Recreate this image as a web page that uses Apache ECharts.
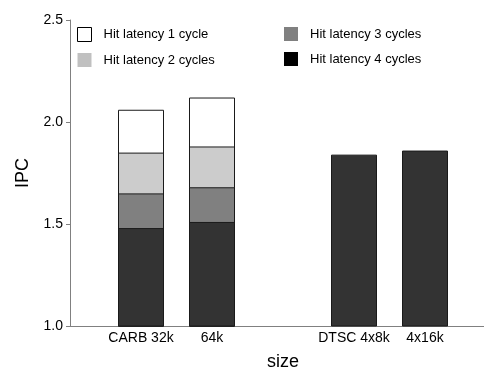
<!DOCTYPE html>
<html>
<head>
<meta charset="utf-8">
<script src="https://cdn.jsdelivr.net/npm/echarts@6/dist/echarts.min.js"></script>
<style>html,body{margin:0;padding:0;background:#fff}#c{width:484px;height:373px}</style>
</head>
<body>
<div id="c"></div>
<script>
// Categories (blank slots are spacing in the original chart)
const categories = ['', 'CARB 32k', '64k', '', 'DTSC 4x8k', '4x16k', ''];
// Cumulative IPC level reached by each hit-latency band
const lat1 = [null, 2.06, 2.12, null, null, null, null];
const lat2 = [null, 1.85, 1.88, null, null, null, null];
const lat3 = [null, 1.65, 1.68, null, null, null, null];
const lat4 = [null, 1.48, 1.51, null, 1.84, 1.86, null];
const seriesNames = ['Hit latency 1 cycle', 'Hit latency 2 cycles', 'Hit latency 3 cycles', 'Hit latency 4 cycles'];
const yTicks = [1.0, 1.5, 2.0, 2.5];

const chart = echarts.init(document.getElementById('c'), null, {renderer: 'canvas'});
const font = 'Liberation Sans, Arial, sans-serif';
const barColors = ['#ffffff', '#cccccc', '#808080', '#333333'];
const legendColors = ['#ffffff', '#c0c0c0', '#808080', '#000000'];
const seriesData = [lat1, lat2, lat3, lat4];

function mkSeries(i) {
  return {
    name: seriesNames[i],
    type: 'bar',
    data: seriesData[i],
    barWidth: 46,
    barGap: '-100%',
    itemStyle: {color: barColors[i], borderColor: '#1a1a1a', borderWidth: 1},
    emphasis: {disabled: true},
    animation: false
  };
}
function legendItem(i) {
  return {
    name: seriesNames[i],
    itemStyle: {color: legendColors[i], borderColor: i === 0 ? '#000' : legendColors[i], borderWidth: i === 0 ? 1 : 0}
  };
}
const legendCommon = {
  orient: 'vertical',
  top: 22,
  itemWidth: 14,
  itemHeight: 14,
  itemGap: 11,
  icon: 'rect',
  selectedMode: false,
  textStyle: {fontFamily: font, fontSize: 13, color: '#000', padding: [0, 0, 0, 7]}
};

chart.setOption({
  animation: false,
  backgroundColor: '#fff',
  grid: {left: 70, right: -12, top: 20, bottom: 47, containLabel: false, outerBoundsMode: 'none'},
  legend: [
    Object.assign({}, legendCommon, {left: 72, data: [legendItem(0), legendItem(1)]}),
    Object.assign({}, legendCommon, {left: 279, data: [legendItem(2), legendItem(3)]})
  ],
  xAxis: {
    type: 'category',
    data: categories,
    boundaryGap: false,
    name: 'size',
    nameLocation: 'middle',
    nameGap: 27,
    nameTextStyle: {fontFamily: font, fontSize: 18, color: '#000'},
    axisLine: {lineStyle: {color: '#808080', width: 1}},
    axisTick: {show: false},
    axisLabel: {interval: 0, fontFamily: font, fontSize: 14, color: '#000', margin: 5},
    splitLine: {show: false}
  },
  yAxis: {
    type: 'value',
    min: yTicks[0],
    max: yTicks[yTicks.length - 1],
    interval: 0.5,
    name: 'IPC',
    nameLocation: 'middle',
    nameGap: 38,
    nameRotate: 90,
    nameTextStyle: {fontFamily: font, fontSize: 18, color: '#000'},
    axisLine: {show: true, lineStyle: {color: '#808080', width: 1}},
    axisTick: {show: true, length: 4, lineStyle: {color: '#808080'}},
    axisLabel: {fontFamily: font, fontSize: 14, color: '#000', margin: 7, formatter: v => v.toFixed(1)},
    splitLine: {show: false}
  },
  series: [mkSeries(0), mkSeries(1), mkSeries(2), mkSeries(3)]
});
</script>
</body>
</html>
